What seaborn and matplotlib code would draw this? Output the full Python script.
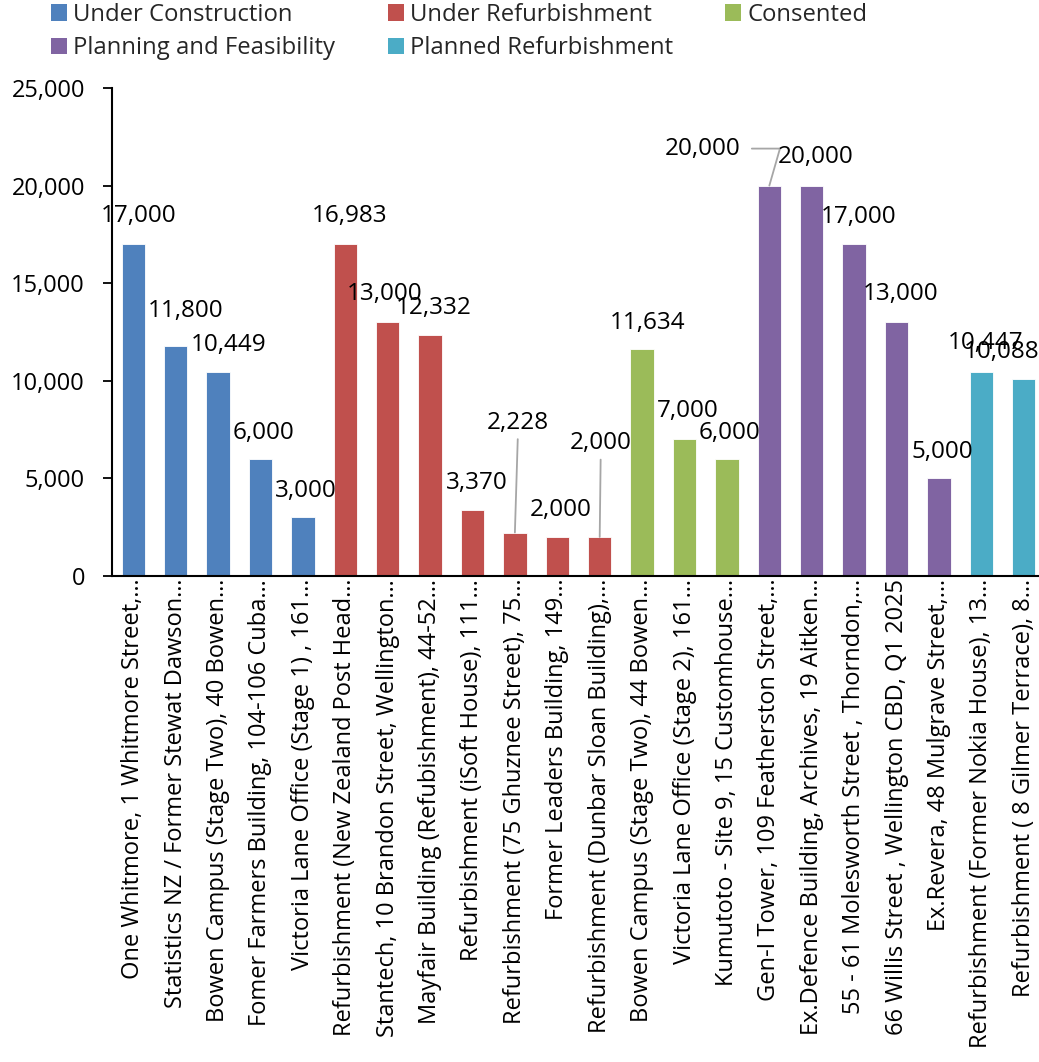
import matplotlib
matplotlib.use("Agg")
import matplotlib.pyplot as plt
import seaborn as sns
import pandas as pd
from matplotlib.patches import Patch
from matplotlib.ticker import FuncFormatter

# ---------------- data ----------------
projects = [
    "One Whitmore, 1 Whitmore Street,…",
    "Statistics NZ / Former Stewat Dawson…",
    "Bowen Campus (Stage Two), 40 Bowen…",
    "Fomer Farmers Building, 104-106 Cuba…",
    "Victoria Lane Office (Stage 1) , 161…",
    "Refurbishment (New Zealand Post Head…",
    "Stantech, 10 Brandon Street, Wellington…",
    "Mayfair Building (Refubishment), 44-52…",
    "Refurbishment (iSoft House), 111…",
    "Refurbishment (75 Ghuznee Street), 75…",
    "Former Leaders Building, 149…",
    "Refurbishment (Dunbar Sloan Building),…",
    "Bowen Campus (Stage Two), 44 Bowen…",
    "Victoria Lane Office (Stage 2), 161…",
    "Kumutoto - Site 9, 15 Customhouse…",
    "Gen-I Tower, 109 Featherston Street,…",
    "Ex.Defence Building, Archives, 19 Aitken…",
    "55 - 61 Molesworth Street , Thorndon,…",
    "66 Willis Street , Wellington CBD, Q1 2025",
    "Ex.Revera, 48 Mulgrave Street,…",
    "Refurbishment (Former Nokia House), 13…",
    "Refurbishment ( 8 Gilmer Terrace), 8…",
]
areas = [17000, 11800, 10449, 6000, 3000,
         16983, 13000, 12332, 3370, 2228, 2000, 2000,
         11634, 7000, 6000,
         20000, 20000, 17000, 13000, 5000,
         10447, 10088]
statuses = (["Under Construction"] * 5 + ["Under Refurbishment"] * 7 +
            ["Consented"] * 3 + ["Planning and Feasibility"] * 5 +
            ["Planned Refurbishment"] * 2)
status_order = ["Under Construction", "Under Refurbishment", "Consented",
                "Planning and Feasibility", "Planned Refurbishment"]
y_ticks = [0, 5000, 10000, 15000, 20000, 25000]

# ---------------- style ----------------
palette = {
    "Under Construction": "#4F81BD",
    "Under Refurbishment": "#C0504D",
    "Consented": "#9BBB59",
    "Planning and Feasibility": "#8064A2",
    "Planned Refurbishment": "#4BACC6",
}
# label offsets in pixels (dx, dy) from bar top-centre, and leader flags
label_offsets = [(5, 28), (10, 35), (11, 27), (3, 26), (3, 26),
                 (4, 28), (-3, 28), (4, 27), (4, 27), (3, 110), (3, 27), (1, 94),
                 (5, 26), (3, 28), (3, 26),
                 (-67, 37), (4, 29), (4, 27), (4, 28), (3, 26),
                 (4, 29), (-22, 27)]
leaders = {9: "v", 11: "v", 15: "angle"}

sns.set_theme(style="white")
plt.rcParams["font.family"] = ["Open Sans", "DejaVu Sans"]
FS_TICK = 17
FS_LABEL = 17.5
FS_LEG = 17.2

df = pd.DataFrame({"project": projects, "area": areas, "status": statuses})

fig = plt.figure(figsize=(10.39, 10.62), dpi=100)
ax = fig.add_axes([112 / 1039, 1 - 576 / 1062, (1045 - 112) / 1039, (576 - 88) / 1062])

sns.barplot(data=df, x="project", y="area", hue="status", order=projects,
            hue_order=status_order, palette=palette, dodge=False, width=0.55,
            saturation=1, edgecolor="white", linewidth=0.6, ax=ax, legend=False)

ax.set_xlim(-0.5, len(projects) - 0.5)
ax.set_ylim(0, 25000)
ax.set_yticks(y_ticks)
ax.yaxis.set_major_formatter(FuncFormatter(lambda v, p: f"{int(v):,}"))
ax.set_xlabel("")
ax.set_ylabel("")
ax.set_xticks(range(len(projects)))
ax.set_xticklabels(projects, rotation=90, fontsize=FS_TICK, color="black")
ax.tick_params(axis="x", length=0, pad=2)
ax.tick_params(axis="y", length=6.5, width=1.3, color="black", direction="out",
               labelsize=FS_TICK, labelcolor="black", pad=13, left=True)
for s in ["top", "right"]:
    ax.spines[s].set_visible(False)
for s in ["left", "bottom"]:
    ax.spines[s].set_color("black")
    ax.spines[s].set_linewidth(1.5)
ax.grid(False)

# data labels
gray = "#A6A6A6"
for i, (v, (dx, dy)) in enumerate(zip(areas, label_offsets)):
    kw = {}
    if leaders.get(i) == "v":
        kw["arrowprops"] = dict(arrowstyle="-", color=gray, lw=1.3,
                                shrinkA=1, shrinkB=0, relpos=(0.5, 0.0))
    elif leaders.get(i) == "angle":
        kw["arrowprops"] = dict(arrowstyle="-", color=gray, lw=1.3,
                                shrinkA=6, shrinkB=0, relpos=(1.0, 0.5),
                                connectionstyle="angle,angleA=0,angleB=74,rad=0")
    ax.annotate(f"{v:,}", xy=(i, v), xytext=(dx, dy), textcoords="offset pixels",
                ha="center", va="center", fontsize=FS_LABEL, color="black",
                annotation_clip=False, **kw)

# legend
handles = [Patch(facecolor=palette[s], edgecolor="none") for s in status_order]
order = [0, 3, 1, 4, 2]
fig.legend([handles[k] for k in order], [status_order[k] for k in order],
           loc="upper left", bbox_to_anchor=(51 / 1039, 1 - 3 / 1062), ncol=3,
           frameon=False, fontsize=FS_LEG, handlelength=0.67, handleheight=0.67,
           handletextpad=0.25, columnspacing=2.2, labelspacing=0.38,
           borderpad=0, borderaxespad=0)

fig.savefig("out.png", dpi=100)
